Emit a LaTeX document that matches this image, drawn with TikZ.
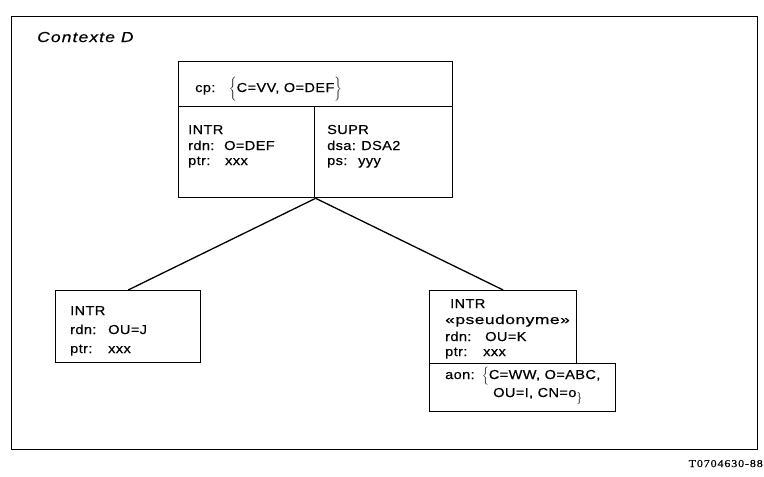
\documentclass[tikz,border=0pt]{standalone}
\usepackage{fontspec}
\usepackage{graphicx}
\setmainfont{Liberation Sans}[FakeStretch=1.12,LetterSpace=3,FakeBold=0.4]
\newfontfamily\ctxfont{Liberation Sans}[FakeStretch=1.2,LetterSpace=8,FakeBold=0.4]
\newfontfamily\codefont{Liberation Serif}[FakeStretch=1.15,LetterSpace=8,FakeBold=0.5]
\begin{document}
\begin{tikzpicture}[x=1pt,y=-1pt,
  txt/.style={anchor=base west, inner sep=0pt, font=\fontsize{13}{15}\selectfont},
  box/.style={draw, line width=1.3pt, inner sep=0pt, anchor=north west},
  conn/.style={line width=1.3pt}]
\useasboundingbox (0,0) rectangle (764,477);
% outer frame
\node[box, minimum width=746pt, minimum height=433pt] (frame) at (11,16) {};
\node[anchor=base west, inner sep=0pt, font=\ctxfont\fontsize{14.5}{16}\selectfont\itshape] (ctx) at (37,42) {Contexte D};
% top entry
\node[box, minimum width=274pt, minimum height=136pt] (top) at (178,61) {};
\node[box, minimum width=274pt, minimum height=45pt] (cprow) at (178,61) {};
\node[box, minimum width=136pt, minimum height=91pt] (tintr) at (178,106) {};
\node[box, minimum width=138pt, minimum height=91pt] (tsupr) at (314,106) {};
\node[txt] (cp) at (195,92) {cp:};
\node[txt] (cpv) at (229,92) {\smash{$\biggl\{$}C=VV, O=DEF\smash{$\biggr\}$}};
\node[txt] (t1) at (188,134) {INTR};
\node[txt] (t2) at (188,150) {rdn:};
\node[txt] (t2v) at (224,150) {O=DEF};
\node[txt] (t3) at (188,165) {ptr:};
\node[txt] (t3v) at (225,165) {xxx};
\node[txt] (s1) at (327,134) {SUPR};
\node[txt] (s2) at (327,150) {dsa:};
\node[txt] (s2v) at (361,150) {DSA2};
\node[txt] (s3) at (327,165) {ps:};
\node[txt] (s3v) at (358,165) {yyy};
% left entry
\node[box, minimum width=145pt, minimum height=72pt] (lbox) at (55,290) {};
\node[txt] (l1) at (70,315) {INTR};
\node[txt] (l2) at (70,334) {rdn:};
\node[txt] (l2v) at (108,334) {OU=J};
\node[txt] (l3) at (70,353) {ptr:};
\node[txt] (l3v) at (108,353) {xxx};
% right entry
\node[box, minimum width=147pt, minimum height=73pt] (rbox) at (429,290) {};
\node[box, minimum width=186pt, minimum height=48pt] (raon) at (429,363) {};
\node[txt] (r1) at (450,308) {INTR};
\node[txt] (r2) at (445,324) {\scalebox{1.2}[1]{«pseudonyme»}};
\node[txt] (r3) at (445,341) {rdn:};
\node[txt] (r3v) at (485,341) {OU=K};
\node[txt] (r4) at (445,356) {ptr:};
\node[txt] (r4v) at (483,356) {xxx};
\node[txt] (a1) at (445,379) {aon:};
\node[txt] (a1v) at (482,379) {\smash{$\Bigl\{$}C=WW, O=ABC,};
\node[txt] (a2v) at (493,397) {OU=I, CN=o\smash{\raisebox{-4pt}{$\bigr\}$}}};
% connectors
\draw[conn] (top.south) -- (lbox.north);
\draw[conn] (top.south) -- (rbox.north);
% code
\node[anchor=base east, inner sep=0pt, font=\codefont\fontsize{10.5}{12}\selectfont] (code) at (763,467) {T0704630-88};
\end{tikzpicture}
\end{document}
